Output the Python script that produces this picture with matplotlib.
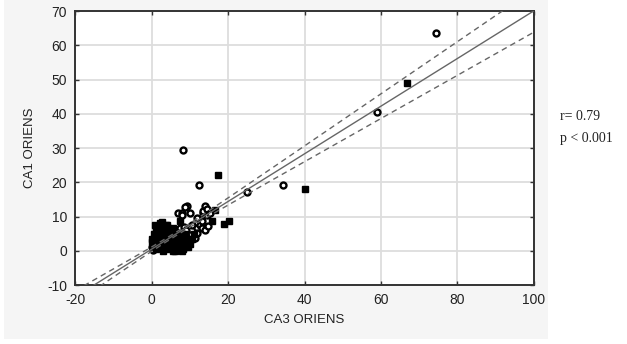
import matplotlib.pyplot as plt
import numpy as np
from matplotlib.patches import Rectangle

plt.rcParams['axes.unicode_minus'] = False

# points (CA3 oriens, CA1 oriens)
carres_x = [0.0, 0.3, 0.5, 0.8, 1.0, 1.2, 1.5, 1.8, 2.0, 2.2, 2.5, 2.6, 2.8, 3.0, 3.0,
            3.2, 3.5, 3.8, 4.0, 4.0, 4.2, 4.3, 4.5, 4.8, 5.0, 5.2, 5.5, 5.5, 5.8, 6.0,
            6.0, 6.2, 6.5, 6.8, 7.0, 7.2, 7.4, 7.5, 7.8, 8.0, 8.3, 8.5, 8.8, 9.0, 9.5,
            10.0, 0.9, 1.0, 1.5, 2.0, 2.5, 3.0, 3.5, 4.0, 4.5, 5.0, 5.5, 6.0, 6.5, 7.0,
            7.0, 8.0, 8.5, 9.0, 9.5, 6.5, 5.0, 2.0, 1.0, 0.5, 0.0, 3.5, 4.5, 7.5, 8.0,
            6.0, 4.0, 9.0, 10.0, 10.5, 11.0, 3.0, 5.5,
            15.7, 18.8, 20.3, 16.6, 17.4, 40.2, 66.9]
carres_y = [3.5, 1.0, 5.0, 2.5, 6.5, 4.0, 1.5, 7.0, 3.0, 8.2, 5.5, 8.3, 2.0, 6.5, 0.0,
            4.0, 1.0, 7.5, 5.0, 7.6, 2.5, 6.7, 0.5, 3.5, 6.0, 1.5, 4.5, 0.0, 0.5, 2.5,
            0.0, 5.5, 1.0, 3.5, 0.3, 2.0, 8.6, 4.5, 1.0, 3.0, 0.5, 2.0, 5.0, 1.5, 2.5,
            3.0, 7.6, 0.5, 3.5, 5.0, 1.5, 3.5, 5.5, 1.5, 6.0, 3.0, 2.0, 3.5, 4.5, 1.5,
            3.5, 2.0, 1.0, 3.0, 1.0, 2.5, 0.8, 2.0, 3.0, 1.5, 2.5, 2.5, 2.0, 0.5, 0.0,
            1.5, 4.0, 4.0, 2.0, 3.5, 5.0, 5.0, 6.5,
            8.8, 7.8, 8.8, 12.0, 22.2, 18.1, 49.1]

cercles_x = [0.0, 0.2, 0.5, 1.0, 1.5, 2.0, 2.5, 3.0, 3.5, 4.0, 4.5, 5.0, 5.5, 6.0, 6.5,
             7.0, 7.5, 8.0, 8.5, 9.0, 9.5, 10.0, 10.5, 11.3, 11.9, 11.9, 12.6, 13.2,
             14.0, 14.8, 13.1, 11.8, 6.9, 7.9, 8.0, 9.2, 8.8, 10.0, 13.4, 13.5, 13.9,
             14.4, 14.5, 15.3, 12.4, 8.3, 25.0, 34.4, 59.0, 74.5]
cercles_y = [1.0, 0.3, 2.0, 2.0, 3.0, 1.0, 3.5, 2.5, 4.5, 3.0, 4.0, 2.0, 5.5, 4.0, 6.0,
             5.0, 6.5, 4.0, 7.0, 6.0, 4.5, 4.7, 7.5, 3.8, 6.7, 5.3, 7.6, 6.7,
             6.1, 7.1, 8.6, 9.6, 11.1, 11.0, 10.5, 13.2, 12.9, 11.0, 11.0, 11.5, 13.2,
             12.2, 10.5, 11.0, 19.3, 29.5, 17.3, 19.3, 40.6, 63.7]

# droite de regression et bande de confiance 95 %
ordonnee = 0.5
pente = 0.695
moy_x = 6.0
demi_a = 0.5
demi_b = 0.066

fig = plt.figure(figsize=(6.27, 3.44), dpi=100, facecolor='white')
fig.patches.append(Rectangle((0.006, 0.015), 0.868, 0.985, transform=fig.transFigure,
                             facecolor='#f5f5f5', edgecolor='none', zorder=-10))
ax = fig.add_axes([0.1203, 0.1715, 0.7307, 0.7965])
ax.set_facecolor('white')

ax.plot(cercles_x, cercles_y, 'o', mfc='white', mec='black', mew=1.7, ms=4.3, zorder=3)
ax.plot(carres_x, carres_y, 's', color='black', ms=4.6, zorder=4)

xs = np.linspace(-20, 100, 300)
ys = ordonnee + pente * xs
hw = np.sqrt(demi_a ** 2 + (demi_b * (xs - moy_x)) ** 2)
ax.plot(xs, ys, color='#666666', lw=1.0, zorder=5)
ax.plot(xs, ys + hw, color='#666666', lw=1.0, ls=(0, (4, 3)), zorder=5)
ax.plot(xs, ys - hw, color='#666666', lw=1.0, ls=(0, (4, 3)), zorder=5)

ax.set_xlim(-20, 100)
ax.set_ylim(-10, 70)
ax.set_xticks(range(-20, 101, 20))
ax.set_yticks(range(-10, 71, 10))
ax.grid(True, color='#dddddd', lw=1.3)
ax.set_axisbelow(True)
for s in ax.spines.values():
    s.set_color('#333333')
    s.set_linewidth(1.4)
ax.tick_params(direction='in', length=3, width=1, top=True, right=True,
               labelsize=10, colors='#333333', labelcolor='#222222', pad=6)
for lab in ax.get_xticklabels() + ax.get_yticklabels():
    lab.set_family('Liberation Sans')

ax.set_xlabel("CA3 ORIENS", fontsize=9.5, family='Liberation Sans', color='#222222', labelpad=5)
ax.set_ylabel("CA1 ORIENS", fontsize=9.5, family='Liberation Sans', color='#222222', labelpad=8)

fig.text(0.893, 0.652, "r= 0.79", fontsize=10, family='Liberation Serif', color='#222222')
fig.text(0.893, 0.588, "p < 0.001", fontsize=10, family='Liberation Serif', color='#222222')

plt.savefig("out.png", dpi=100, facecolor=fig.get_facecolor())
